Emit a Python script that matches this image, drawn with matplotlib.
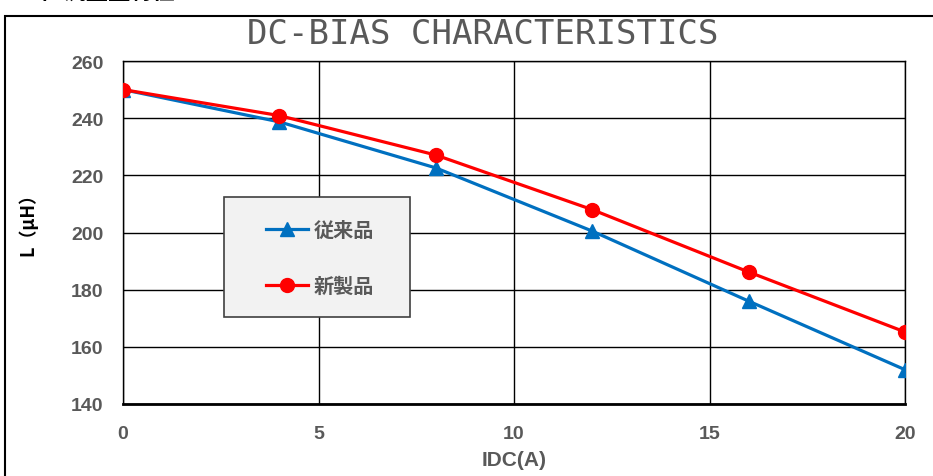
import matplotlib
matplotlib.use("Agg")
import matplotlib.pyplot as plt
from matplotlib.patches import Rectangle

# data
idc = [0, 4, 8, 12, 16, 20]
conventional = [250.0, 238.7, 222.6, 200.5, 176.0, 152.0]   # 従来品
new_product = [250.0, 240.9, 227.1, 208.0, 186.2, 165.2]    # 新製品
series_labels = ["従来品", "新製品"]
xticks = [0, 5, 10, 15, 20]
yticks = [140, 160, 180, 200, 220, 240, 260]

GREY = "#595959"
JP = ["Noto Sans CJK JP", "DejaVu Sans"]
NARROW = ["Liberation Sans Narrow", "Liberation Sans"]

fig = plt.figure(figsize=(9.33, 4.77), dpi=100)
ax = fig.add_axes([123 / 933, 72 / 477, 782 / 933, 343 / 477])

ax.plot(idc, conventional, color="#0070C0", lw=2.3, marker="^", ms=10,
        label=series_labels[0], zorder=3)
ax.plot(idc, new_product, color="#FF0000", lw=2.3, marker="o", ms=10,
        label=series_labels[1], zorder=4)

ax.set_xlim(0, 20)
ax.set_ylim(140, 260)
ax.set_xticks(xticks)
ax.set_yticks(yticks)
ax.grid(True, color="black", lw=1.0)
ax.set_axisbelow(True)
for side in ("top", "right", "left"):
    ax.spines[side].set_linewidth(1.0)
ax.spines["bottom"].set_linewidth(2.0)
ax.tick_params(length=0, labelsize=14, labelcolor=GREY)
ax.tick_params(axis="x", pad=15)
ax.tick_params(axis="y", pad=14)
for lab in ax.get_xticklabels() + ax.get_yticklabels():
    lab.set_fontweight("bold")
    lab.set_family(NARROW)

ax.set_xlabel("IDC(A)", fontsize=15, fontweight="bold", color=GREY,
              family=NARROW, labelpad=6)
ax.set_ylabel("L（μH）", fontsize=13, fontweight="bold", color="black",
              family=JP)
ax.yaxis.set_label_coords(-0.110, 0.539)

fig.text(483 / 933, 442 / 477, "DC-BIAS CHARACTERISTICS", ha="center",
         va="center", fontsize=24.5, color=GREY, family="DejaVu Sans Mono")

# legend: grey box with the entries centred inside
ax.add_patch(Rectangle((0.129, 0.254), 0.238, 0.349, transform=ax.transAxes,
                       facecolor="#F2F2F2", edgecolor="#404040", lw=1.2,
                       zorder=5))
leg = ax.legend(loc="center", bbox_to_anchor=(0.252, 0.427),
                prop={"family": JP, "weight": "bold", "size": 14.5},
                frameon=False, labelspacing=1.75, handlelength=2.1,
                handletextpad=0.3, borderpad=0, borderaxespad=0)
leg.set_zorder(6)
for t in leg.get_texts():
    t.set_color(GREY)

# outer chart frame and clipped page heading
fig.patches.append(Rectangle((5 / 933, -0.1), 1.0, (477 - 17) / 477 + 0.1,
                             transform=fig.transFigure, fill=False,
                             edgecolor="black", lw=1.5))
fig.text(20 / 933, 1.0 - 5 / 477, "■直流重畳特性", ha="left", va="bottom",
         fontsize=16, fontweight="bold", family=JP, color="black")

fig.savefig("out.png", dpi=100)
